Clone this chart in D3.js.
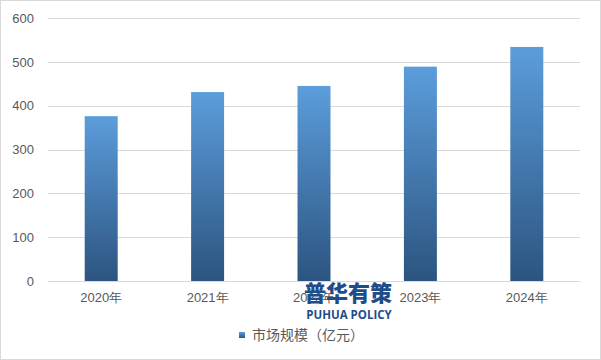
<!DOCTYPE html>
<html>
<head>
<meta charset="utf-8">
<script src="https://cdn.jsdelivr.net/npm/d3@7"></script>
<style>
  body { margin: 0; background: #fff; }
  svg { display: block; font-family: "Open Sans", "Noto Sans CJK SC", sans-serif; }
</style>
</head>
<body>
<div id="chart"></div>
<script>
// data
const years = ["2020年", "2021年", "2022年", "2023年", "2024年"];
const marketSize = [376, 431, 445, 489, 534];
const yTicks = [0, 100, 200, 300, 400, 500, 600];
const seriesName = "市场规模（亿元）";

const W = 601, H = 360;
const margin = { top: 18, right: 21, bottom: 79, left: 48 };
const width = W - margin.left - margin.right,
      height = H - margin.top - margin.bottom;

const svg = d3.select("#chart")
    .append("svg")
    .attr("width", W)
    .attr("height", H);

// outer border
svg.append("rect")
    .attr("x", 0.5).attr("y", 0.5)
    .attr("width", W - 1).attr("height", H - 1)
    .attr("fill", "#fff")
    .attr("stroke", "#d9d9d9");

const defs = svg.append("defs");
const grad = defs.append("linearGradient")
    .attr("id", "barGrad")
    .attr("x1", 0).attr("y1", 0).attr("x2", 0).attr("y2", 1);
grad.append("stop").attr("offset", "0%").attr("stop-color", "#5b9ddb");
grad.append("stop").attr("offset", "100%").attr("stop-color", "#2c5480");

const g = svg.append("g")
    .attr("transform", `translate(${margin.left},${margin.top})`);

const x = d3.scaleBand()
    .domain(years)
    .range([0, width])
    .paddingInner(0.69)
    .paddingOuter(0.345);

const y = d3.scaleLinear()
    .domain([0, 600])
    .range([height, 0]);

// gridlines
g.append("g")
    .selectAll("line")
    .data(yTicks)
    .enter()
    .append("line")
    .attr("x1", 0)
    .attr("x2", width)
    .attr("y1", d => Math.round(y(d)) + 0.5)
    .attr("y2", d => Math.round(y(d)) + 0.5)
    .attr("stroke", "#d9d9d9")
    .attr("stroke-width", 1);

// y axis labels
const yAxis = g.append("g")
    .call(d3.axisLeft(y).tickValues(yTicks).tickSize(0).tickPadding(14));
yAxis.select(".domain").remove();
yAxis.selectAll("text")
    .attr("fill", "#595959")
    .style("font-size", "13px");

// bars
g.append("g")
    .selectAll("rect")
    .data(marketSize)
    .enter()
    .append("rect")
    .attr("x", (d, i) => x(years[i]))
    .attr("y", d => y(d))
    .attr("width", x.bandwidth())
    .attr("height", d => height - y(d))
    .attr("fill", "url(#barGrad)");

// x axis
const xAxis = g.append("g")
    .attr("transform", `translate(0,${height})`)
    .call(d3.axisBottom(x).tickSize(0).tickPadding(12));
xAxis.select(".domain").attr("stroke", "#d9d9d9");
xAxis.selectAll("text")
    .attr("fill", "#595959")
    .style("font-size", "13px");

// legend
const legend = svg.append("g")
    .attr("transform", "translate(239,332)");
legend.append("rect")
    .attr("width", 6).attr("height", 6)
    .attr("fill", "url(#barGrad)");
legend.append("text")
    .attr("x", 13)
    .attr("y", 8)
    .attr("fill", "#595959")
    .style("font-size", "14px")
    .style("font-family", "'Noto Sans CJK SC', sans-serif")
    .text(seriesName);

// watermark
const wm = svg.append("g");
wm.append("text")
    .attr("x", 348)
    .attr("y", 301)
    .attr("text-anchor", "middle")
    .attr("fill", "#1f4d8a")
    .style("font-size", "22px")
    .style("font-weight", "900")
    .style("font-family", "'Noto Sans CJK SC', sans-serif")
    .text("普华有策");
wm.append("text")
    .attr("x", 349)
    .attr("y", 319)
    .attr("text-anchor", "middle")
    .attr("fill", "#1f4d8a")
    .style("font-size", "11.5px")
    .style("font-weight", "bold")
    .style("font-family", "'Open Sans', sans-serif")
    .text("PUHUA POLICY");
</script>
</body>
</html>
